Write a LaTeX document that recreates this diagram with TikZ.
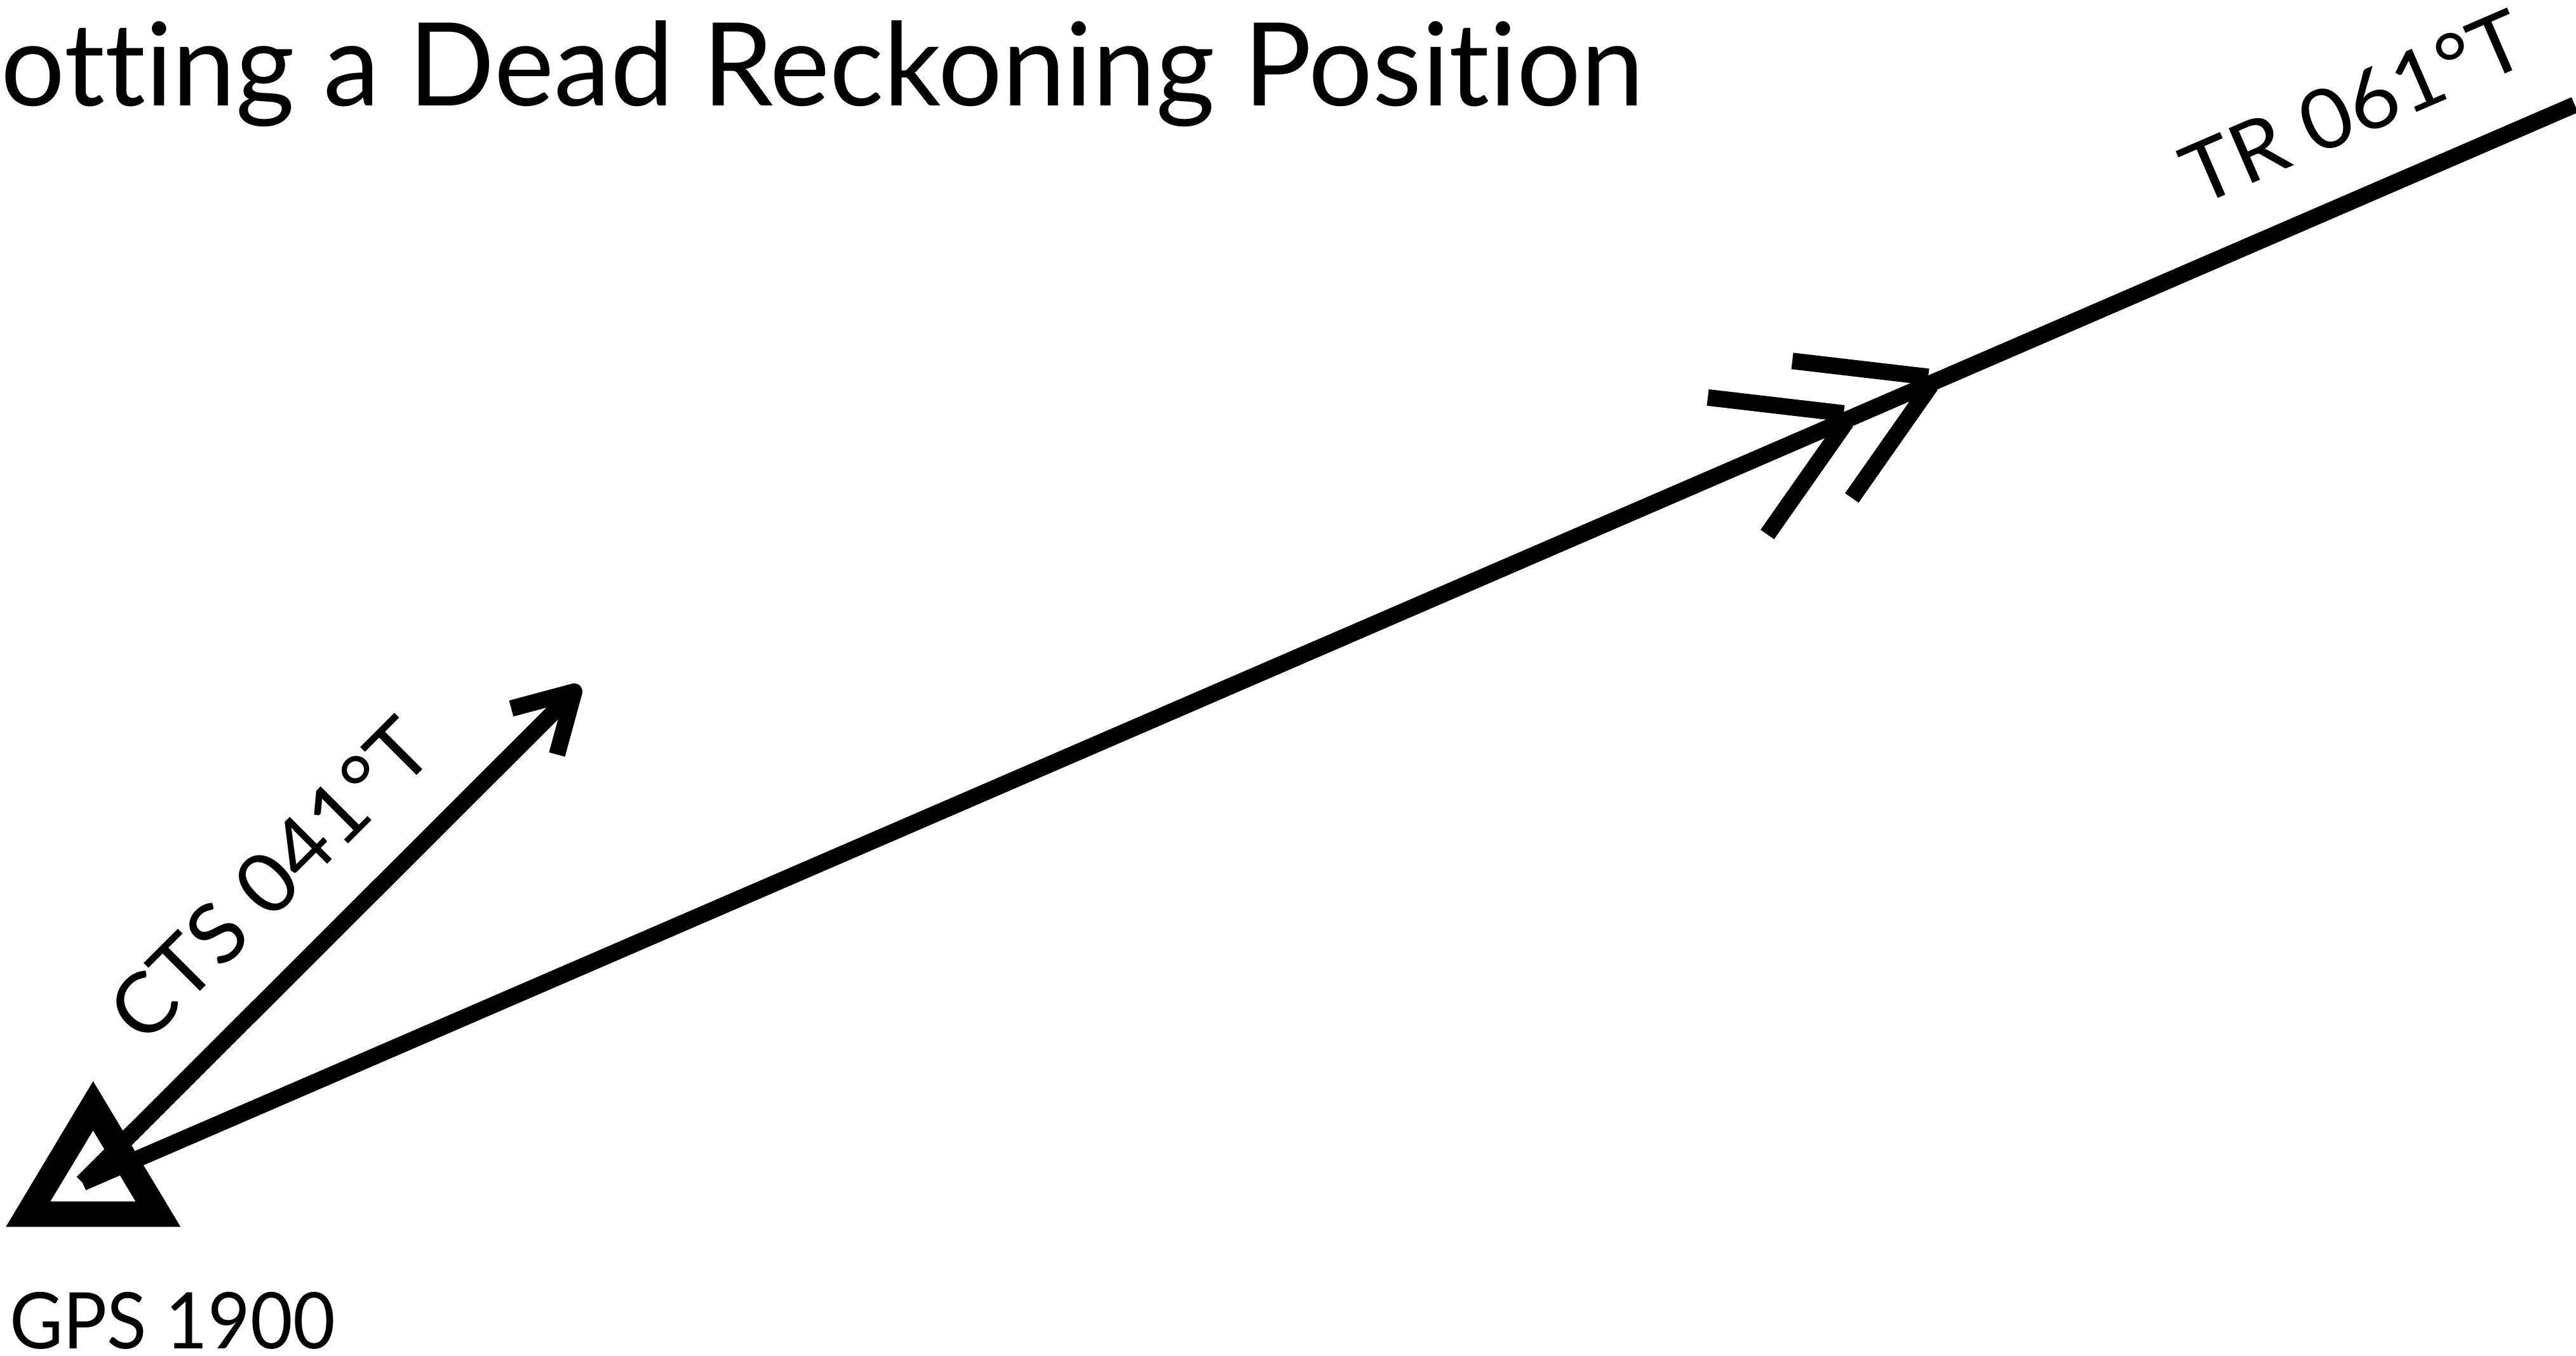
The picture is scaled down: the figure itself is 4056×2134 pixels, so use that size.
\documentclass[tikz,border=0pt]{standalone}
\usepackage{fontspec}
\setmainfont{Lato}[Ligatures={NoCommon,NoContextual}]
\usetikzlibrary{calc}
\begin{document}
\begin{tikzpicture}[x=1pt,y=-1pt,
  track/.style={line width=26pt, line cap=butt, line join=miter},
  lbl/.style={inner sep=0pt, outer sep=0pt},
  titlefont/.style={font=\fontsize{182}{200}\selectfont},
  labelfont/.style={font=\fontsize{131}{150}\selectfont},
  gpsfont/.style={font=\fontsize{123}{140}\selectfont}]
\useasboundingbox (0,0) rectangle (4056,2134);
\fill[white] (0,0) rectangle (4056,2134);

% title (cropped at the left edge in the reference)
\node[lbl, titlefont, anchor=base west] (title) at (1.4,166.7)
  {\resizebox{2587pt}{\height}{otting a Dead Reckoning Position}};

% GPS fix symbol
\fill[even odd rule] (9.2,1931.7) -- (146.6,1702.3) -- (284.3,1931.7) -- cycle
  (79.2,1891.7) -- (146.6,1780) -- (213.5,1891.7) -- cycle;
\node[lbl, gpsfont, anchor=base west] (gps) at (15,2123.3)
  {\resizebox{513pt}{\height}{GPS 1900}};

% key points
\coordinate (fix) at (130,1862);
\coordinate (trend) at (4054,165);
\coordinate (ctstip) at (904,1089);
\coordinate (v1) at ($(fix)!0.70693!(trend)$);
\coordinate (v2) at ($(fix)!0.74083!(trend)$);

% track line with double arrowhead
\draw[track] (fix) -- (trend);
\foreach \v in {v1,v2} {
  \draw[track] ($(\v)+(-215,-36.5)$) -- ($(\v)+(-1,-11.5)$);
  \draw[track] ($(\v)+(-121.3,179.2)$) -- ($(\v)+(3,2)$);
}

% course to steer
\draw[track] (fix) -- (ctstip);
\draw[track, line join=round] ($(ctstip)+(-99,26.5)$) -- (ctstip) -- ($(ctstip)+(-27,99)$);

% labels
\node[lbl, labelfont, anchor=base, rotate=45] (cts) at (458.2,1418.4)
  {\resizebox{652pt}{\height}{CTS 041°T}};
\node[lbl, labelfont, anchor=base, rotate=23.4] (tr) at (3724.3,211.6)
  {\resizebox{572pt}{\height}{TR 061°T}};
\end{tikzpicture}
\end{document}
